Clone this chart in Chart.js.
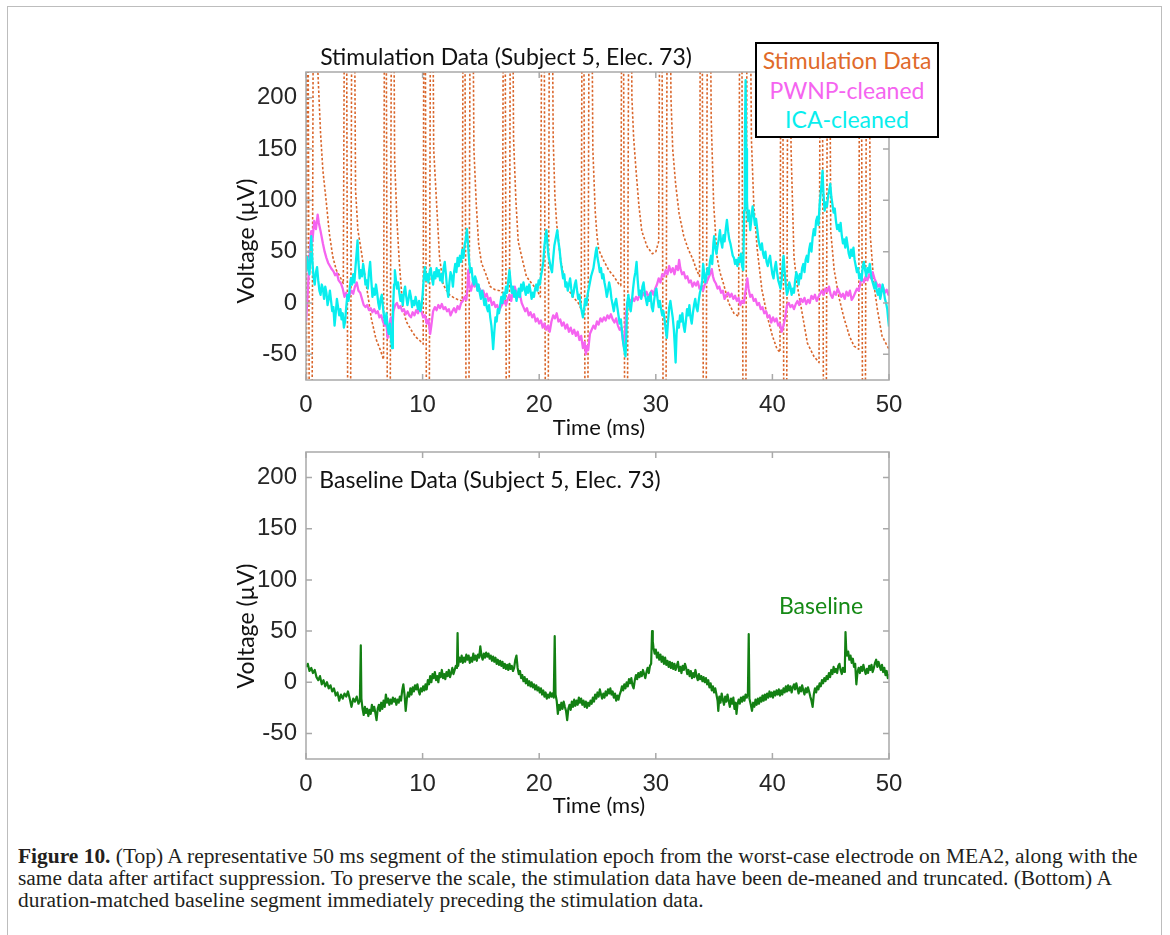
<!DOCTYPE html>
<html>
<head>
<meta charset="utf-8">
<script src="https://cdn.jsdelivr.net/npm/chart.js@4.4.0/dist/chart.umd.min.js"></script>
<style>
  body { margin: 0; background: #fff; width: 1170px; height: 935px; overflow: hidden; position: relative; font-family: Lato, "Open Sans", sans-serif; }
  .frame { position: absolute; left: 7px; top: 6px; width: 1153px; height: 1000px; border: 1.5px solid #bdbdbd; border-bottom: none; }
  canvas { position: absolute; }
  .lbl { position: absolute; white-space: nowrap; line-height: 1; font-size: 23px; color: #111; transform: translate(-50%, -50%); }
  .rot { transform: translate(-50%, -50%) rotate(-90deg); }
  .legend { position: absolute; left: 755px; top: 42px; width: 184px; height: 96px; box-sizing: border-box; border: 2px solid #000; background: #fff; }
  .caption { position: absolute; left: 18px; font-family: "Liberation Serif", "DejaVu Serif", serif; font-size: 20px; color: #231f20; white-space: nowrap; line-height: 1; transform-origin: 0 50%; }
</style>
</head>
<body>
<div class="frame"></div>
<canvas id="top" width="760" height="400" style="left:200px; top:40px;"></canvas>
<canvas id="bottom" width="760" height="400" style="left:200px; top:420px;"></canvas>

<div class="lbl" style="left:506px; top:56px;">Stimulation Data (Subject 5, Elec. 73)</div>
<div class="lbl rot" style="left:245px; top:241px;">Voltage (µV)</div>
<div class="lbl" style="left:599px; top:427px; font-size:22px;">Time (ms)</div>

<div class="legend"></div>
<div class="lbl" style="left:847px; top:60px; color:#e06a2a;">Stimulation Data</div>
<div class="lbl" style="left:847px; top:90px; color:#f564f0;">PWNP-cleaned</div>
<div class="lbl" style="left:847px; top:119px; color:#08eeee;">ICA-cleaned</div>

<div class="lbl" style="left:490px; top:479px;">Baseline Data (Subject 5, Elec. 73)</div>
<div class="lbl rot" style="left:245px; top:626px;">Voltage (µV)</div>
<div class="lbl" style="left:599px; top:805px; font-size:22px;">Time (ms)</div>
<div class="lbl" style="left:821px; top:605px; color:#168a16;">Baseline</div>

<div class="caption" id="cap1" style="top:846px;"><b>Figure 10.</b> (Top) A representative 50 ms segment of the stimulation epoch from the worst-case electrode on MEA2, along with the</div>
<div class="caption" id="cap2" style="top:868px;">same data after artifact suppression. To preserve the scale, the stimulation data have been de-meaned and truncated. (Bottom) A</div>
<div class="caption" id="cap3" style="top:890px;">duration-matched baseline segment immediately preceding the stimulation data.</div>

<script>
// axis ticks (ms / µV)
const xTicks = [0, 10, 20, 30, 40, 50];
const yTicks = [-50, 0, 50, 100, 150, 200];

// stimulation trace, truncated pulses run off the axes
const stimData = [
  [0,-600],[0.1,600],[0.4,-600],[0.7,600],
  [1.0,230],[1.25,165],[1.45,129],[1.75,97],[2.0,68],[2.3,45],[2.6,32],[2.9,26],[3.2,19],
  [3.4,600],[3.7,-600],[4.0,600],
  [4.25,110],[4.45,71],[4.75,50],[5.0,30],[5.3,8],[5.6,-15],[6.0,-35],[6.35,-45],[6.65,-55],
  [6.8,600],[7.1,-600],[7.4,600],
  [7.6,140],[7.8,80],[8.0,40],[8.3,-5],[8.6,-18],[9.0,-26],[9.4,-33],[9.8,-37],[10.05,-40],
  [10.15,600],[10.45,-600],[10.75,600],
  [10.95,150],[11.2,97],[11.45,45],[11.75,19],[12.0,13],[12.3,8],[12.7,5],[13.1,3],[13.4,2],
  [13.55,600],[13.85,-600],[14.15,600],
  [14.4,150],[14.6,97],[14.8,58],[15.05,39],[15.5,26],[15.8,16],[16.2,13],[16.6,12],[16.85,10],
  [17.0,600],[17.3,-600],[17.6,600],
  [17.8,160],[18.0,100],[18.2,60],[18.5,45],[18.9,26],[19.35,19],[19.8,13],[20.1,6],
  [20.35,600],[20.65,-600],[20.95,600],
  [21.2,160],[21.35,103],[21.5,77],[21.8,45],[22.1,26],[22.5,13],[22.9,6],[23.35,0],[23.6,-6],
  [23.75,600],[24.05,-600],[24.35,600],
  [24.6,150],[24.8,90],[24.96,65],[25.1,52],[25.5,42],[25.96,32],[26.4,26],[26.8,19],[27.0,17],
  [27.15,600],[27.45,-600],[27.75,600],
  [27.95,200],[28.1,161],[28.3,130],[28.55,95],[28.8,70],[29.25,55],[29.7,48],[30.0,50],[30.25,60],
  [30.45,600],[30.75,-600],[31.05,600],
  [31.3,200],[31.45,150],[31.7,116],[32.0,87],[32.4,65],[32.8,52],[33.2,42],[33.5,32],[33.75,26],
  [33.9,600],[34.2,-600],[34.5,600],
  [34.75,180],[34.96,97],[35.25,45],[35.5,30],[35.8,19],[36.25,0],[36.7,-10],[37.1,-13],
  [37.3,600],[37.6,-600],[37.9,600],
  [38.2,160],[38.4,97],[38.7,52],[39.1,13],[39.56,-13],[40.0,-32],[40.4,-45],[40.65,-48],
  [40.8,600],[41.1,-600],[41.4,600],
  [41.6,150],[41.85,45],[42.1,19],[42.6,-13],[43.0,-39],[43.56,-52],[44.0,-58],
  [44.2,600],[44.5,-600],[44.8,600],
  [45.0,70],[45.3,32],[45.7,6],[46.1,-13],[46.6,-32],[47.0,-42],[47.4,-45],
  [47.55,600],[47.85,-600],[48.15,600],
  [48.4,65],[48.7,19],[49.0,-6],[49.4,-32],[49.85,-42],[50,-45]
];

// PWNP-cleaned trace
const pwnpData = [
  [0,-18],[0.15,10],[0.3,45],[0.45,70],[0.55,60],[0.7,80],[0.85,72],[1.0,86],[1.1,78],[1.25,70],[1.45,58],[1.6,50],
  [1.75,44],[1.9,39],[2.05,36],[2.2,33],[2.35,31],[2.5,27],[2.65,29],[2.8,22],[3.0,19],[3.15,14],[3.3,6],[3.45,10],
  [3.6,4],[3.75,8],[3.9,12],[4.05,9],[4.2,16],[4.35,20],[4.5,12],[4.65,10],[4.8,4],[4.95,-2],[5.1,-4],[5.25,-2],
  [5.4,-7],[5.55,-5],[5.7,-9],[5.85,-6],[6.0,-10],[6.15,-8],[6.3,-14],[6.45,-12],[6.6,-18],[6.75,-22],[6.9,-20],
  [7.0,-34],[7.1,-26],[7.2,-18],[7.3,-14],[7.4,-30],[7.5,-8],[7.65,-2],[7.8,0],[7.95,-5],[8.1,-3],[8.25,-8],
  [8.4,-6],[8.55,-11],[8.7,-8],[8.85,-12],[9.0,-14],[9.15,-9],[9.3,-12],[9.45,-7],[9.6,-10],[9.75,-5],[9.9,-8],
  [10.05,-14],[10.2,-12],[10.35,-20],[10.5,-16],[10.65,-30],[10.75,-22],[10.9,-8],[11.05,-4],[11.2,-7],[11.35,-2],
  [11.5,-5],[11.65,-1],[11.8,-6],[11.95,-4],[12.1,-8],[12.25,-6],[12.4,-12],[12.55,-8],[12.7,-5],[12.85,-9],
  [13.0,-3],[13.15,-6],[13.3,0],[13.45,2],[13.6,6],[13.75,3],[13.85,14],[13.92,32],[14.0,18],[14.15,12],[14.3,20],
  [14.45,16],[14.6,19],[14.75,12],[14.9,14],[15.05,8],[15.2,12],[15.35,6],[15.5,9],[15.65,2],[15.8,5],[15.95,-2],
  [16.1,1],[16.25,-4],[16.4,-2],[16.55,-8],[16.7,-4],[16.85,-1],[17.0,2],[17.15,-2],[17.3,4],[17.45,8],[17.6,2],
  [17.75,12],[17.9,16],[18.05,10],[18.2,6],[18.35,8],[18.5,0],[18.65,-4],[18.8,-8],[18.95,-5],[19.1,-12],[19.25,-9],
  [19.4,-14],[19.55,-11],[19.7,-18],[19.85,-15],[20.0,-20],[20.15,-17],[20.3,-24],[20.45,-20],[20.6,-26],[20.75,-22],
  [20.9,-28],[21.05,-18],[21.2,-12],[21.35,-15],[21.5,-10],[21.65,-18],[21.8,-16],[21.95,-22],[22.1,-19],[22.25,-25],
  [22.4,-21],[22.55,-28],[22.7,-24],[22.85,-30],[23.0,-26],[23.15,-32],[23.3,-28],[23.45,-36],[23.6,-32],[23.75,-44],
  [23.9,-38],[24.0,-50],[24.1,-42],[24.2,-46],[24.35,-30],[24.5,-26],[24.65,-22],[24.8,-25],[24.95,-18],[25.1,-21],
  [25.25,-15],[25.4,-18],[25.55,-14],[25.7,-17],[25.85,-12],[26.0,-15],[26.15,-11],[26.3,-16],[26.45,-19],[26.6,-15],
  [26.75,-22],[26.9,-26],[27.05,-24],[27.15,-34],[27.25,-42],[27.35,-30],[27.45,-10],[27.55,0],[27.7,4],[27.85,1],
  [28.0,5],[28.15,2],[28.3,6],[28.45,3],[28.6,8],[28.75,5],[28.9,10],[29.05,7],[29.2,11],[29.35,6],[29.5,9],
  [29.65,12],[29.8,8],[29.95,14],[30.1,18],[30.25,24],[30.4,20],[30.55,28],[30.7,26],[30.85,32],[31.0,28],[31.15,36],
  [31.3,30],[31.45,34],[31.6,28],[31.75,36],[31.9,32],[32.0,42],[32.1,34],[32.25,28],[32.4,30],[32.55,24],[32.7,26],
  [32.85,20],[33.0,22],[33.15,16],[33.3,20],[33.45,17],[33.6,21],[33.75,14],[33.9,16],[34.05,12],[34.2,18],[34.35,20],
  [34.5,24],[34.65,28],[34.8,33],[34.9,26],[35.0,22],[35.15,19],[35.3,14],[35.45,16],[35.6,10],[35.75,12],[35.9,4],
  [36.05,8],[36.2,10],[36.35,6],[36.5,9],[36.65,4],[36.8,7],[36.95,2],[37.1,5],[37.25,-2],[37.4,2],[37.55,0],
  [37.7,12],[37.85,24],[37.95,14],[38.1,6],[38.25,8],[38.4,2],[38.55,4],[38.7,-2],[38.85,0],[39.0,-6],[39.15,-4],
  [39.3,-10],[39.45,-8],[39.6,-14],[39.75,-12],[39.9,-19],[40.05,-14],[40.2,-18],[40.35,-15],[40.5,-22],[40.65,-20],
  [40.8,-28],[40.95,-22],[41.1,-14],[41.25,-2],[41.4,0],[41.55,-4],[41.7,-2],[41.85,-6],[42.0,-1],[42.15,2],[42.3,-2],
  [42.45,4],[42.6,1],[42.75,5],[42.9,-1],[43.05,3],[43.2,0],[43.35,7],[43.5,4],[43.65,8],[43.8,2],[43.95,6],
  [44.1,9],[44.25,12],[44.4,8],[44.55,14],[44.7,11],[44.85,16],[45.0,8],[45.15,5],[45.3,11],[45.45,8],[45.6,14],
  [45.75,10],[45.9,6],[46.05,9],[46.2,4],[46.35,11],[46.5,7],[46.65,12],[46.8,3],[46.95,6],[47.1,10],[47.25,14],
  [47.4,12],[47.55,20],[47.7,24],[47.85,20],[48.0,26],[48.15,22],[48.3,28],[48.45,24],[48.6,30],[48.75,24],[48.9,20],
  [49.05,16],[49.2,18],[49.35,12],[49.5,15],[49.65,10],[49.8,13],[49.95,8],[50,10]
];

// ICA-cleaned trace
const icaData = [
  [0,30],[0.1,45],[0.2,35],[0.3,28],[0.4,50],[0.45,65],[0.55,40],[0.65,25],[0.75,18],[0.85,30],[0.95,35],[1.05,22],
  [1.15,12],[1.25,8],[1.35,18],[1.45,14],[1.55,4],[1.65,16],[1.75,10],[1.85,-2],[1.95,4],[2.05,12],[2.15,2],[2.25,-8],
  [2.35,-4],[2.45,-22],[2.55,-10],[2.65,4],[2.75,-4],[2.85,-12],[2.95,-6],[3.05,-16],[3.15,-10],[3.25,-24],[3.35,-18],
  [3.45,-4],[3.55,8],[3.65,2],[3.75,14],[3.85,24],[3.95,18],[4.05,28],[4.15,20],[4.25,36],[4.35,50],[4.42,61],[4.5,40],
  [4.6,24],[4.7,32],[4.8,26],[4.9,38],[5.0,30],[5.1,18],[5.2,22],[5.3,14],[5.4,30],[5.5,40],[5.6,22],[5.7,6],[5.8,14],
  [5.9,8],[6.0,18],[6.1,10],[6.2,0],[6.3,-6],[6.4,4],[6.5,8],[6.6,-4],[6.7,-14],[6.8,-20],[6.9,-10],[7.0,-24],[7.1,-30],
  [7.2,-20],[7.3,-36],[7.38,-44],[7.45,-10],[7.55,18],[7.62,32],[7.7,24],[7.8,14],[7.9,20],[8.0,10],[8.1,2],[8.2,8],
  [8.3,-2],[8.4,10],[8.5,16],[8.6,6],[8.7,-2],[8.8,4],[8.9,12],[9.0,6],[9.1,-4],[9.2,2],[9.3,-2],[9.4,6],[9.5,0],
  [9.6,-6],[9.7,2],[9.8,-8],[9.9,-4],[10.0,8],[10.1,24],[10.2,35],[10.3,22],[10.4,28],[10.5,20],[10.6,30],[10.7,34],
  [10.8,24],[10.9,18],[11.0,30],[11.1,24],[11.2,34],[11.3,26],[11.4,32],[11.5,22],[11.6,28],[11.7,20],[11.8,34],
  [11.9,40],[12.0,28],[12.1,14],[12.2,6],[12.3,20],[12.4,30],[12.5,26],[12.6,16],[12.7,30],[12.8,38],[12.9,30],
  [13.0,44],[13.1,36],[13.2,46],[13.3,40],[13.4,52],[13.5,44],[13.6,56],[13.7,62],[13.8,72],[13.9,56],[14.0,40],
  [14.1,30],[14.2,34],[14.3,22],[14.4,18],[14.5,26],[14.6,22],[14.7,12],[14.8,18],[14.9,10],[15.0,4],[15.1,12],
  [15.2,6],[15.3,-2],[15.4,4],[15.5,-4],[15.6,-8],[15.7,-2],[15.8,-14],[15.9,-22],[16.0,-36],[16.05,-45],[16.15,-28],
  [16.25,-14],[16.35,-18],[16.45,-6],[16.55,-10],[16.65,-2],[16.75,6],[16.85,0],[16.95,10],[17.05,4],[17.15,16],
  [17.25,10],[17.35,22],[17.45,32],[17.55,20],[17.65,10],[17.75,16],[17.85,6],[17.95,12],[18.05,2],[18.15,8],
  [18.25,14],[18.35,6],[18.45,18],[18.55,12],[18.65,20],[18.75,14],[18.85,8],[18.95,16],[19.05,10],[19.15,18],
  [19.25,12],[19.35,4],[19.45,10],[19.55,6],[19.65,14],[19.75,18],[19.85,12],[19.95,22],[20.05,18],[20.15,26],
  [20.25,32],[20.35,40],[20.45,56],[20.55,66],[20.62,71],[20.7,58],[20.8,46],[20.9,40],[21.0,34],[21.1,30],[21.2,44],
  [21.3,56],[21.4,62],[21.5,68],[21.55,71],[21.65,60],[21.75,52],[21.85,40],[21.95,32],[22.05,24],[22.15,28],
  [22.25,16],[22.35,20],[22.45,12],[22.55,18],[22.65,24],[22.75,14],[22.85,6],[22.95,10],[23.05,18],[23.15,22],
  [23.25,12],[23.35,4],[23.45,8],[23.55,-2],[23.65,-8],[23.75,-14],[23.85,-6],[23.95,4],[24.05,-2],[24.15,8],
  [24.25,14],[24.35,20],[24.45,26],[24.55,30],[24.65,34],[24.75,42],[24.85,50],[24.92,54],[25.0,44],[25.1,38],
  [25.2,30],[25.3,34],[25.4,24],[25.5,28],[25.6,20],[25.7,14],[25.8,6],[25.9,12],[26.0,20],[26.1,14],[26.2,4],
  [26.3,-2],[26.4,-8],[26.5,0],[26.6,4],[26.7,-4],[26.8,-12],[26.9,-20],[27.0,-16],[27.1,-28],[27.2,-38],[27.3,-46],
  [27.4,-52],[27.48,-30],[27.55,0],[27.65,8],[27.75,-4],[27.85,-8],[27.95,2],[28.05,14],[28.15,24],[28.25,30],
  [28.35,40],[28.45,22],[28.55,8],[28.65,12],[28.75,4],[28.85,16],[28.95,20],[29.05,10],[29.15,4],[29.25,-2],
  [29.35,6],[29.45,2],[29.55,10],[29.65,-4],[29.75,-8],[29.85,2],[29.95,10],[30.05,14],[30.15,4],[30.25,-4],[30.35,2],
  [30.45,-6],[30.55,-12],[30.65,-8],[30.75,-16],[30.85,-26],[30.95,-34],[31.05,-18],[31.15,-4],[31.25,2],[31.35,-6],
  [31.45,-14],[31.55,-26],[31.62,-40],[31.7,-58],[31.78,-30],[31.88,-18],[31.98,-24],[32.08,-12],[32.18,-18],
  [32.28,-10],[32.38,-22],[32.48,-28],[32.58,-18],[32.68,-6],[32.78,-12],[32.88,-2],[32.98,-14],[33.08,-20],
  [33.18,-10],[33.28,-2],[33.38,4],[33.48,-4],[33.58,-8],[33.68,2],[33.78,10],[33.88,14],[33.98,22],[34.06,38],
  [34.14,30],[34.24,20],[34.34,26],[34.44,34],[34.54,28],[34.64,40],[34.74,46],[34.84,38],[34.94,58],[35.0,65],
  [35.1,54],[35.2,48],[35.3,56],[35.4,62],[35.5,71],[35.6,60],[35.7,54],[35.8,66],[35.9,60],[36.0,72],[36.1,81],
  [36.2,70],[36.3,62],[36.4,58],[36.5,52],[36.6,46],[36.7,44],[36.8,38],[36.9,42],[37.0,36],[37.1,44],[37.2,40],
  [37.3,48],[37.4,36],[37.5,32],[37.58,90],[37.64,160],[37.7,217],[37.76,150],[37.82,100],[37.9,80],[38.0,90],
  [38.1,71],[38.2,82],[38.3,94],[38.4,86],[38.5,76],[38.6,82],[38.7,72],[38.8,62],[38.9,56],[39.0,52],[39.1,58],
  [39.2,48],[39.3,44],[39.4,50],[39.5,40],[39.6,36],[39.7,42],[39.8,46],[39.9,36],[40.0,28],[40.1,24],[40.2,34],
  [40.3,40],[40.4,30],[40.5,22],[40.6,18],[40.7,14],[40.8,24],[40.9,40],[40.96,46],[41.05,30],[41.15,18],[41.25,8],
  [41.35,12],[41.45,20],[41.55,16],[41.65,8],[41.75,14],[41.85,10],[41.95,22],[42.05,30],[42.15,26],[42.25,18],
  [42.35,28],[42.45,24],[42.55,34],[42.65,38],[42.75,30],[42.85,42],[42.95,46],[43.05,40],[43.15,52],[43.25,58],
  [43.35,50],[43.45,64],[43.55,72],[43.65,66],[43.75,80],[43.85,84],[43.95,76],[44.05,96],[44.15,108],[44.25,120],
  [44.3,129],[44.38,106],[44.48,90],[44.58,98],[44.68,94],[44.78,104],[44.88,110],[44.96,116],[45.05,104],
  [45.15,96],[45.25,88],[45.35,92],[45.45,80],[45.55,72],[45.65,76],[45.75,70],[45.85,78],[45.95,66],[46.05,58],
  [46.15,62],[46.25,54],[46.35,64],[46.45,56],[46.55,48],[46.65,44],[46.75,52],[46.85,46],[46.95,54],[47.05,42],
  [47.15,36],[47.25,30],[47.35,34],[47.45,24],[47.55,28],[47.65,22],[47.75,36],[47.85,40],[47.95,32],[48.05,26],
  [48.15,34],[48.25,30],[48.35,38],[48.45,28],[48.55,22],[48.65,18],[48.75,14],[48.85,20],[48.95,12],[49.05,8],
  [49.15,14],[49.25,4],[49.35,10],[49.45,18],[49.55,12],[49.65,4],[49.75,0],[49.85,-6],[49.95,-18],[50,-23]
];

// baseline segment preceding stimulation
const baselineData = [
  [0,15],[0.15,18],[0.3,11],[0.45,14],[0.6,9],[0.75,12],[0.9,5],[1.05,2],[1.2,6],[1.35,-2],[1.5,2],[1.65,-4],[1.8,0],
  [1.95,-6],[2.1,-3],[2.25,-9],[2.4,-6],[2.55,-13],[2.7,-10],[2.85,-18],[3.0,-12],[3.15,-16],[3.3,-11],[3.45,-14],
  [3.6,-9],[3.75,-16],[3.9,-24],[4.05,-16],[4.2,-19],[4.35,-14],[4.5,-21],[4.62,-18],[4.7,36],[4.75,-16],[4.85,-26],
  [4.95,-32],[5.05,-24],[5.15,-30],[5.25,-26],[5.35,-33],[5.45,-27],[5.55,-31],[5.65,-22],[5.75,-28],[5.85,-24],
  [5.95,-30],[6.05,-37],[6.15,-26],[6.25,-22],[6.35,-28],[6.45,-20],[6.55,-26],[6.65,-18],[6.75,-24],[6.85,-12],
  [6.95,-20],[7.05,-16],[7.15,-22],[7.25,-17],[7.35,-21],[7.45,-15],[7.55,-19],[7.65,-16],[7.75,-22],[7.85,-17],
  [7.95,-20],[8.05,-14],[8.15,-18],[8.25,-8],[8.35,-2],[8.45,-12],[8.55,-28],[8.65,-16],[8.75,-10],[8.85,-14],
  [8.95,-6],[9.05,-12],[9.15,-5],[9.25,-9],[9.35,-3],[9.45,-7],[9.55,-2],[9.65,-8],[9.75,-12],[9.85,-6],[9.95,-9],
  [10.05,-4],[10.15,-8],[10.25,-2],[10.35,-7],[10.45,2],[10.55,-2],[10.65,6],[10.75,0],[10.85,8],[10.95,4],[11.05,10],
  [11.15,2],[11.25,6],[11.35,0],[11.45,9],[11.55,5],[11.65,12],[11.75,4],[11.85,8],[11.95,3],[12.05,10],[12.15,6],
  [12.25,12],[12.35,5],[12.45,9],[12.55,14],[12.65,8],[12.75,12],[12.85,16],[12.95,14],[13.0,48],[13.05,16],
  [13.15,24],[13.25,20],[13.35,26],[13.45,19],[13.55,24],[13.65,20],[13.75,27],[13.85,22],[13.95,26],[14.05,19],
  [14.15,24],[14.25,20],[14.35,28],[14.45,22],[14.55,26],[14.65,21],[14.75,27],[14.85,24],[14.95,35],[15.05,26],
  [15.15,22],[15.25,28],[15.35,24],[15.45,29],[15.55,25],[15.65,28],[15.75,23],[15.85,26],[15.95,21],[16.05,25],
  [16.15,20],[16.25,24],[16.35,18],[16.45,22],[16.55,17],[16.65,21],[16.75,16],[16.85,20],[16.95,14],[17.05,18],
  [17.15,13],[17.25,17],[17.35,12],[17.45,18],[17.55,13],[17.65,16],[17.75,11],[17.85,14],[17.95,22],[18.05,26],
  [18.15,14],[18.25,8],[18.35,11],[18.45,4],[18.55,7],[18.65,1],[18.75,5],[18.85,-1],[18.95,3],[19.05,-3],[19.15,1],
  [19.25,-4],[19.35,0],[19.45,-5],[19.55,-2],[19.65,-7],[19.75,-3],[19.85,-8],[19.95,-5],[20.05,-10],[20.15,-6],
  [20.25,-12],[20.35,-8],[20.45,-14],[20.55,-10],[20.65,-16],[20.75,-12],[20.85,-15],[20.95,-10],[21.05,-14],
  [21.15,-11],[21.25,-15],[21.33,45],[21.4,-12],[21.5,-18],[21.6,-31],[21.7,-22],[21.8,-27],[21.9,-20],[22.0,-26],
  [22.1,-19],[22.2,-24],[22.3,-28],[22.4,-37],[22.5,-26],[22.6,-22],[22.7,-27],[22.8,-19],[22.9,-24],[23.0,-17],
  [23.1,-23],[23.2,-18],[23.3,-22],[23.4,-15],[23.5,-20],[23.6,-16],[23.7,-22],[23.8,-18],[23.9,-24],[24.0,-19],
  [24.1,-25],[24.2,-20],[24.3,-23],[24.4,-18],[24.5,-21],[24.6,-15],[24.7,-19],[24.8,-12],[24.9,-16],[25.0,-10],
  [25.1,-14],[25.2,-7],[25.3,-12],[25.4,-16],[25.5,-11],[25.6,-15],[25.7,-9],[25.8,-13],[25.9,-7],[26.0,-11],
  [26.1,-6],[26.2,-12],[26.3,-9],[26.4,-15],[26.5,-11],[26.6,-18],[26.7,-13],[26.8,-17],[26.9,-12],[27.0,-9],
  [27.1,-4],[27.2,-8],[27.3,-2],[27.4,-6],[27.5,0],[27.6,-4],[27.7,3],[27.8,-1],[27.9,4],[28.0,-3],[28.1,-6],[28.2,2],
  [28.3,7],[28.4,3],[28.5,9],[28.6,5],[28.7,10],[28.8,6],[28.9,12],[29.0,8],[29.1,4],[29.2,10],[29.3,14],[29.4,9],
  [29.5,16],[29.6,18],[29.68,50],[29.74,40],[29.8,34],[29.9,28],[30.0,32],[30.1,24],[30.2,29],[30.3,22],[30.4,27],
  [30.5,20],[30.6,25],[30.7,18],[30.8,24],[30.9,17],[31.0,21],[31.1,15],[31.2,20],[31.3,14],[31.4,19],[31.5,13],
  [31.6,18],[31.7,12],[31.8,16],[31.9,20],[32.0,11],[32.1,15],[32.2,9],[32.3,16],[32.4,12],[32.5,18],[32.6,14],
  [32.7,8],[32.8,12],[32.9,6],[33.0,11],[33.1,4],[33.2,9],[33.3,5],[33.4,12],[33.5,6],[33.6,2],[33.7,8],[33.8,3],
  [33.9,6],[34.0,1],[34.1,5],[34.2,0],[34.3,4],[34.4,-2],[34.5,2],[34.6,-5],[34.7,-1],[34.8,-8],[34.9,-4],[35.0,-10],
  [35.1,-6],[35.2,-12],[35.3,-18],[35.36,-28],[35.45,-14],[35.55,-20],[35.65,-11],[35.75,-17],[35.85,-22],[35.95,-14],
  [36.05,-19],[36.15,-12],[36.25,-18],[36.35,-24],[36.45,-16],[36.55,-21],[36.65,-15],[36.75,-26],[36.85,-20],
  [36.92,-31],[37.0,-22],[37.1,-17],[37.2,-21],[37.3,-15],[37.4,-19],[37.5,-14],[37.6,-18],[37.7,-12],[37.8,-15],
  [37.9,-11],[37.97,47],[38.03,-16],[38.15,-22],[38.25,-28],[38.35,-20],[38.45,-24],[38.55,-17],[38.65,-22],
  [38.75,-16],[38.85,-21],[38.95,-15],[39.05,-19],[39.15,-13],[39.25,-18],[39.35,-12],[39.45,-17],[39.55,-11],
  [39.65,-15],[39.75,-9],[39.85,-14],[39.95,-10],[40.05,-15],[40.15,-9],[40.25,-13],[40.35,-8],[40.45,-12],[40.55,-7],
  [40.65,-13],[40.75,-8],[40.85,-12],[40.95,-6],[41.05,-10],[41.15,-4],[41.25,-9],[41.35,-3],[41.45,-8],[41.55,-4],
  [41.65,-10],[41.75,-5],[41.85,-2],[41.95,-7],[42.05,-1],[42.15,-6],[42.25,-11],[42.35,-5],[42.45,-9],[42.55,-3],
  [42.65,-8],[42.75,-12],[42.85,-6],[42.95,-10],[43.05,-5],[43.15,-9],[43.25,-14],[43.35,-18],[43.45,-24],[43.55,-12],
  [43.65,-6],[43.75,-10],[43.85,-4],[43.95,-7],[44.05,-1],[44.15,-4],[44.25,2],[44.35,-1],[44.45,4],[44.55,1],
  [44.65,6],[44.75,3],[44.85,9],[44.95,5],[45.05,12],[45.15,8],[45.25,15],[45.35,10],[45.45,13],[45.55,9],[45.65,16],
  [45.75,18],[45.85,12],[45.95,8],[46.05,14],[46.15,10],[46.22,18],[46.27,49],[46.33,32],[46.4,26],[46.5,30],
  [46.6,22],[46.7,26],[46.8,19],[46.9,23],[47.0,15],[47.1,18],[47.2,-2],[47.3,10],[47.4,14],[47.5,9],[47.6,15],
  [47.7,11],[47.8,17],[47.9,12],[48.0,8],[48.1,13],[48.2,9],[48.3,16],[48.4,12],[48.5,17],[48.6,10],[48.7,14],
  [48.8,19],[48.9,22],[49.0,15],[49.1,20],[49.2,16],[49.3,12],[49.4,17],[49.5,10],[49.6,14],[49.7,7],[49.8,11],
  [49.9,4],[50,8]
];

const toXY = pairs => pairs.map(([x, y]) => ({ x: x, y: y }));

// MATLAB-style box: grey frame with inward ticks on all four sides
const boxTicks = {
  id: 'boxTicks',
  afterDatasetsDraw(chart) {
    const ctx = chart.ctx, a = chart.chartArea;
    const xs = chart.scales.x, ys = chart.scales.y;
    ctx.save();
    ctx.strokeStyle = '#a9a9a9';
    ctx.lineWidth = 1.5;
    ctx.strokeRect(a.left, a.top, a.right - a.left, a.bottom - a.top);
    ctx.beginPath();
    xs.ticks.forEach(t => {
      const px = xs.getPixelForValue(t.value);
      ctx.moveTo(px, a.bottom); ctx.lineTo(px, a.bottom - 6);
      ctx.moveTo(px, a.top); ctx.lineTo(px, a.top + 6);
    });
    ys.ticks.forEach(t => {
      const py = ys.getPixelForValue(t.value);
      ctx.moveTo(a.left, py); ctx.lineTo(a.left + 6, py);
      ctx.moveTo(a.right, py); ctx.lineTo(a.right - 6, py);
    });
    ctx.stroke();
    ctx.restore();
  }
};

function makePanel(id, datasets, axisHeight) {
  return new Chart(document.getElementById(id), {
    type: 'line',
    data: { datasets: datasets },
    options: {
      responsive: false,
      animation: false,
      devicePixelRatio: 1,
      layout: { padding: { top: 32, right: 71, left: 0, bottom: 0 } },
      plugins: { legend: { display: false }, tooltip: { enabled: false } },
      elements: { point: { radius: 0 }, line: { tension: 0, borderJoinStyle: 'round' } },
      scales: {
        x: {
          type: 'linear', min: 0, max: 50,
          grid: { display: false, drawTicks: false },
          border: { display: false },
          afterBuildTicks: s => { s.ticks = xTicks.map(v => ({ value: v })); },
          afterFit: s => { s.height = axisHeight; },
          ticks: { padding: 11, color: '#262626', font: { family: 'Liberation Sans', size: 24 } }
        },
        y: {
          type: 'linear', min: -75, max: 225,
          grid: { display: false, drawTicks: false },
          border: { display: false },
          afterBuildTicks: s => { s.ticks = yTicks.map(v => ({ value: v })); },
          afterFit: s => { s.width = 106; },
          ticks: { padding: 9, color: '#262626', font: { family: 'Liberation Sans', size: 24 } }
        }
      }
    },
    plugins: [boxTicks]
  });
}

makePanel('top', [
  { label: 'ICA-cleaned', data: toXY(icaData), borderColor: '#08eeee', borderWidth: 2.3, clip: 0 },
  { label: 'PWNP-cleaned', data: toXY(pwnpData), borderColor: '#f564f0', borderWidth: 2.3, clip: 0 },
  { label: 'Stimulation Data', data: toXY(stimData), borderColor: '#d9652a', borderWidth: 1.6, borderDash: [2.5, 2], clip: 0 }
], 60);

makePanel('bottom', [
  { label: 'Baseline', data: toXY(baselineData), borderColor: '#138013', borderWidth: 2.2, clip: 0 }
], 61);

// squeeze the caption lines to the column width
(function () {
  const first = document.getElementById('cap1');
  const k = 1120 / first.scrollWidth;
  ['cap1', 'cap2', 'cap3'].forEach(id => {
    document.getElementById(id).style.transform = 'scaleX(' + k + ')';
  });
})();
</script>
</body>
</html>
